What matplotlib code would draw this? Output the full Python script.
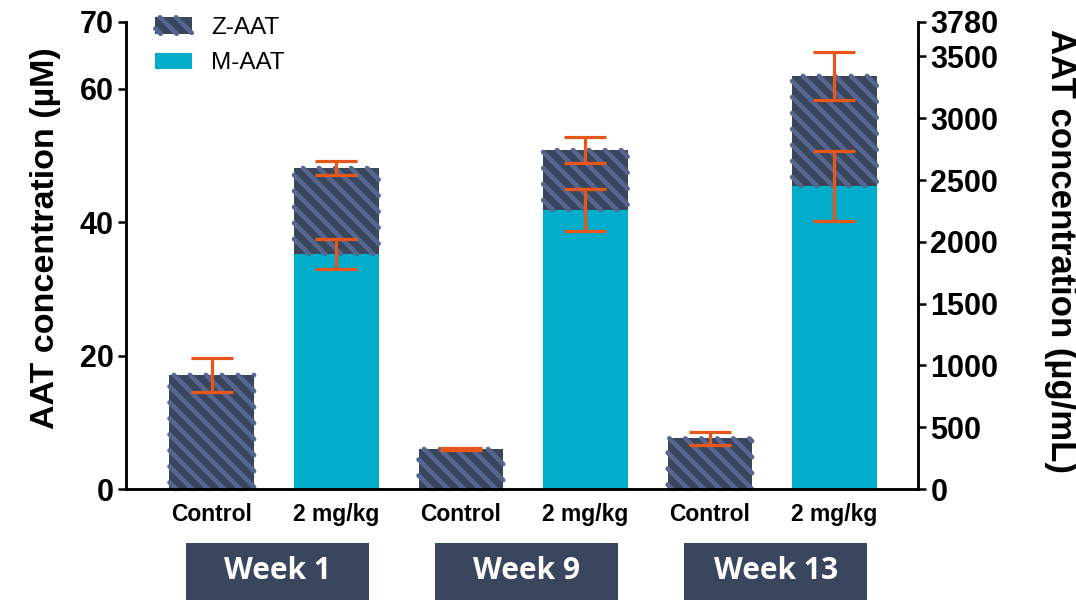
import numpy as np
import matplotlib.pyplot as plt
import matplotlib.patches as patches
import matplotlib.transforms as mtransforms
from matplotlib.lines import Line2D
from matplotlib.legend_handler import HandlerBase

plt.rcParams['font.family'] = ['Liberation Sans', 'DejaVu Sans']

groups = ['Control', '2 mg/kg', 'Control', '2 mg/kg', 'Control', '2 mg/kg']
weeks = ['Week 1', 'Week 9', 'Week 13']

# M-AAT (bottom) and Z-AAT (stacked on top), in uM
m_aat = [0, 35.2, 0, 41.8, 0, 45.4]
z_aat = [17.1, 12.9, 6.0, 9.0, 7.6, 16.5]
m_err = [0, 2.3, 0, 3.2, 0, 5.3]
z_err = [2.5, 1.1, 0.1, 1.9, 0.95, 3.6]

UG_PER_UM = 54.0  # 3780 ug/mL == 70 uM

NAVY = '#3a465e'
STRIPE = '#56678f'
CYAN = '#00aecb'
ORANGE = '#e8561a'
BAR_W = 0.68
STRIPE_GAP = 16.0   # px, measured along the vertical
STRIPE_LW = 3.3     # pt


def stripe_segments(x0, y0, x1, y1, gap, phase=0.0):
    # diagonal "\" stripes (x + y = c) cut to the rectangle
    segs = []
    c = np.ceil((x0 + y0 - phase) / gap) * gap + phase
    while c <= x1 + y1:
        xa, xb = max(x0, c - y1), min(x1, c - y0)
        if xb >= xa:
            segs.append(([xa, xb], [c - xa, c - xb]))
        c += gap
    return segs


class StripeHandler(HandlerBase):
    def create_artists(self, legend, orig_handle, xdescent, ydescent,
                       width, height, fontsize, trans):
        x0, y0 = -xdescent, -ydescent
        arts = [patches.Rectangle((x0, y0), width, height, facecolor=NAVY,
                                  edgecolor='none', transform=trans)]
        for xs, ys in stripe_segments(x0, y0, x0 + width, y0 + height,
                                      STRIPE_GAP * 0.72, phase=4):
            arts.append(Line2D(xs, ys, color=STRIPE, lw=STRIPE_LW,
                               solid_capstyle='round', transform=trans))
        return arts


fig = plt.figure(figsize=(10.76, 6.06), dpi=100)
ax = fig.add_axes([0.117, 0.193, 0.736, 0.771])

x = np.arange(len(groups))
m = np.array(m_aat)
z = np.array(z_aat)
total = m + z

ax.set_xlim(-0.69, 5.67)
ax.set_ylim(0, 70)

ax.bar(x, m, width=BAR_W, color=CYAN, linewidth=0, zorder=2)
ax.bar(x, z, bottom=m, width=BAR_W, color=NAVY, linewidth=0, zorder=2)

# stripe pattern on the Z-AAT segments, drawn in pixel space
for xi, yb, yt in zip(x, m, total):
    px0, py0 = ax.transData.transform((xi - BAR_W / 2, yb))
    px1, py1 = ax.transData.transform((xi + BAR_W / 2, yt))
    for xs, ys in stripe_segments(px0, py0, px1, py1, STRIPE_GAP, phase=5):
        ax.add_line(Line2D(xs, ys, color=STRIPE, lw=STRIPE_LW, solid_capstyle='round',
                           transform=mtransforms.IdentityTransform(), zorder=2.5,
                           clip_on=False))

err_kw = dict(fmt='none', ecolor=ORANGE, elinewidth=2.3, capsize=15, capthick=2.3, zorder=3)
has_m = m > 0
ax.errorbar(x[has_m], m[has_m], yerr=np.array(m_err)[has_m], **err_kw)
ax.errorbar(x, total, yerr=z_err, **err_kw)

ax.set_yticks([0, 20, 40, 60, 70])
ax.set_xticks(x)
ax.set_xticklabels(groups, fontsize=16.5, fontweight='bold')
ax.tick_params(axis='x', length=0, pad=10)
ax.tick_params(axis='y', length=6, width=1.8, labelsize=22, pad=3)
for lbl in ax.get_yticklabels():
    lbl.set_fontweight('bold')
ax.set_ylabel('AAT concentration (µM)', fontsize=24.5, fontweight='bold',
              ha='center', va='center')
ax.yaxis.set_label_coords(-0.102, 0.537)
ax.spines['top'].set_visible(False)
for s in ['left', 'right', 'bottom']:
    ax.spines[s].set_linewidth(1.8)

ax2 = ax.twinx()
ax2.set_ylim(0, 70 * UG_PER_UM)
ax2.set_yticks([0, 500, 1000, 1500, 2000, 2500, 3000, 3500, 3780])
ax2.tick_params(axis='y', length=6, width=1.8, labelsize=22, pad=3)
for lbl in ax2.get_yticklabels():
    lbl.set_fontweight('bold')
ax2.set_ylabel('AAT concentration (µg/mL)', fontsize=25, fontweight='bold',
               rotation=270, ha='center', va='center')
ax2.yaxis.set_label_coords(1.18, 0.51)
ax2.spines['top'].set_visible(False)
for s in ['left', 'right', 'bottom']:
    ax2.spines[s].set_linewidth(1.8)

# week boxes under each pair of bars
trans = mtransforms.blended_transform_factory(ax.transData, ax.transAxes)
for i, wk in enumerate(weeks):
    cx = 2 * i + 0.5 + 0.03
    rect = patches.Rectangle((cx - 0.735, -0.237), 1.47, 0.122, transform=trans,
                             facecolor=NAVY, edgecolor='none', clip_on=False)
    ax.add_patch(rect)
    ax.text(cx, -0.176, wk, transform=trans, ha='center', va='center',
            color='white', fontsize=21.5, fontweight='bold', family='Open Sans')

z_handle = patches.Patch(label='Z-AAT')
m_handle = patches.Patch(facecolor=CYAN, linewidth=0, label='M-AAT')
fig.legend(handles=[z_handle, m_handle], handler_map={z_handle: StripeHandler()},
           loc='upper left', bbox_to_anchor=(0.124, 1.008), frameon=False,
           fontsize=17.5, handlelength=1.5, handleheight=0.68, handletextpad=0.8,
           labelspacing=0.55)

fig.savefig('out.png', dpi=100)
